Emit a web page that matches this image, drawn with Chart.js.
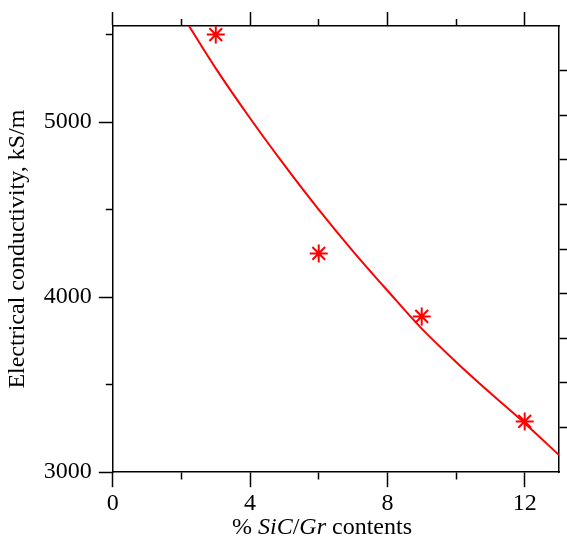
<!DOCTYPE html>
<html>
<head>
<meta charset="utf-8">
<script src="https://cdn.jsdelivr.net/npm/chart.js@4.4.1/dist/chart.umd.min.js"></script>
<style>
    body { margin: 0; background: #fff; }
    #wrap { position: relative; width: 567px; height: 537px; }
    #xTitle {
        position: absolute;
        left: 322px;
        top: 514px;
        transform: translateX(-50%);
        font-family: 'Liberation Serif', serif;
        font-size: 24px;
        line-height: 1;
        white-space: nowrap;
        color: #000;
    }
</style>
</head>
<body>
<div id="wrap">
    <canvas id="chart" width="567" height="537"></canvas>
    <div id="xTitle">% <i>SiC</i>/<i>Gr</i> contents</div>
</div>
<script>
// Ölçülen noktalar (yıldızlar)
const pointsX = [3, 6, 9, 12];
const pointsY = [5500, 4250, 3890, 3290];

// Teorik eğri
const curveX = [2.22, 3, 4, 5, 6, 7, 8, 9, 10, 11, 12, 13];
const curveY = [5549, 5307, 5022, 4754, 4500, 4262, 4038, 3820, 3630, 3452, 3280, 3098];

// Eksen değerleri
const xMin = 0, xMax = 13;
const xTickValues = [0, 2, 4, 6, 8, 10, 12];
const xLabelValues = [0, 4, 8, 12];
const yMin = 3000, yMax = 5549;
const yTickValues = [3000, 3500, 4000, 4500, 5000, 5500];
const yLabelValues = [3000, 4000, 5000];
const rightTickValues = [1, 2, 3, 4, 5, 6, 7, 8, 9];

const serif = 'Liberation Serif';

// kısa (minor) tikler için kesikli çizgi hilesi
function outerToInner(isMajor) {
    return isMajor ? [] : [0, 7, 14, 0];
}
function innerToOuter(isMajor) {
    return isMajor ? [] : [7, 100];
}
function setTicks(values) {
    return scale => {
        scale.ticks = values.map(v => ({ value: v }));
    };
}

const ctx = document.getElementById('chart').getContext('2d');

new Chart(ctx, {
    type: 'scatter',
    data: {
        datasets: [
            {
                label: 'fit',
                type: 'line',
                data: curveX.map((x, i) => ({ x: x, y: curveY[i] })),
                borderColor: '#ff0000',
                borderWidth: 2,
                pointRadius: 0,
                fill: false,
                cubicInterpolationMode: 'monotone',
                xAxisID: 'x',
                yAxisID: 'y'
            },
            {
                label: 'data',
                data: pointsX.map((x, i) => ({ x: x, y: pointsY[i] })),
                pointStyle: 'star',
                pointRadius: 9,
                pointBorderWidth: 2,
                borderColor: '#ff0000',
                backgroundColor: '#ff0000',
                xAxisID: 'x',
                yAxisID: 'y'
            }
        ]
    },
    options: {
        responsive: false,
        animation: false,
        layout: {
            autoPadding: false,
            padding: { top: 12, left: 3, right: 0, bottom: 17 }
        },
        plugins: {
            legend: { display: false },
            tooltip: { enabled: false },
            title: { display: false }
        },
        scales: {
            x: {
                type: 'linear',
                position: 'bottom',
                min: xMin,
                max: xMax,
                afterBuildTicks: setTicks(xTickValues),
                afterFit: scale => {
                    scale.paddingLeft = 0;
                    scale.paddingRight = 0;
                },
                border: { display: true, color: '#000', width: 1.5 },
                grid: {
                    drawOnChartArea: false,
                    tickLength: 15,
                    tickWidth: 1.5,
                    tickColor: '#000',
                    tickBorderDash: c => innerToOuter(xLabelValues.includes(c.tick.value))
                },
                ticks: {
                    padding: 2,
                    color: '#000',
                    font: { family: serif, size: 24 },
                    maxRotation: 0,
                    autoSkip: false,
                    callback: v => xLabelValues.includes(v) ? String(v) : ''
                }
            },
            x2: {
                type: 'linear',
                position: 'top',
                min: xMin,
                max: xMax,
                afterBuildTicks: setTicks(xTickValues),
                afterFit: scale => {
                    scale.paddingLeft = 0;
                    scale.paddingRight = 0;
                },
                border: { display: true, color: '#000', width: 1.5 },
                grid: {
                    drawOnChartArea: false,
                    tickLength: 14,
                    tickWidth: 1.5,
                    tickColor: '#000',
                    tickBorderDash: c => outerToInner(xLabelValues.includes(c.tick.value))
                },
                ticks: { display: false }
            },
            y: {
                type: 'linear',
                position: 'left',
                min: yMin,
                max: yMax,
                afterBuildTicks: setTicks(yTickValues),
                border: { display: true, color: '#000', width: 1.5 },
                grid: {
                    drawOnChartArea: false,
                    tickLength: 14,
                    tickWidth: 1.5,
                    tickColor: '#000',
                    tickBorderDash: c => outerToInner(yLabelValues.includes(c.tick.value))
                },
                ticks: {
                    padding: 7,
                    color: '#000',
                    font: { family: serif, size: 24 },
                    autoSkip: false,
                    callback: v => yLabelValues.includes(v) ? String(v) : ''
                },
                title: {
                    display: true,
                    text: 'Electrical conductivity, kS/m',
                    color: '#000',
                    font: { family: serif, size: 24 },
                    padding: { top: 0, bottom: 5 }
                }
            },
            y2: {
                type: 'linear',
                position: 'right',
                min: 0,
                max: 10,
                afterBuildTicks: setTicks(rightTickValues),
                border: { display: true, color: '#000', width: 1.5 },
                grid: {
                    drawOnChartArea: false,
                    tickLength: 8,
                    tickWidth: 1.5,
                    tickColor: '#000'
                },
                ticks: { display: false }
            }
        }
    }
});
</script>
</body>
</html>
